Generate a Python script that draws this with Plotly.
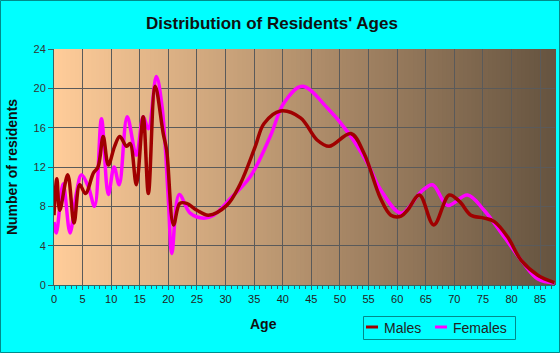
import plotly.graph_objects as go

# ---- data ----
male_age = [0.0, 0.5, 1.0, 2.4, 3.5, 4.5, 5.5, 6.9, 7.7, 8.6, 9.5, 10.6, 11.5, 12.7, 13.3,
            14.4, 15.6, 16.5, 17.7, 19.1, 19.7, 20.9, 22.0, 23.2, 25.0, 27.0, 30.2, 32.5,
            35.2, 36.7, 39.6, 43.1, 46.0, 48.1, 51.9, 54.2, 57.1, 58.9, 60.7, 61.8, 63.9,
            66.4, 69.1, 70.9, 72.9, 75.2, 77.0, 79.3, 81.7, 84.6, 87.5]
male_val = [7.1, 10.8, 7.6, 11.2, 6.3, 10.2, 9.3, 11.4, 12.0, 15.1, 12.2, 14.1, 15.1, 14.1, 14.4,
            10.2, 17.1, 9.3, 20.2, 15.4, 13.7, 6.1, 8.3, 8.3, 7.6, 7.1, 8.1, 10.2,
            14.1, 16.4, 17.7, 17.0, 14.75, 14.1, 15.4, 13.4, 8.8, 7.1, 7.0, 7.6, 9.15,
            6.1, 9.15, 8.5, 7.1, 6.8, 6.45, 4.9, 2.5, 1.0, 0.25]

female_age = [0.0, 0.4, 1.6, 2.8, 3.9, 4.8, 6.0, 7.1, 8.3, 9.5, 10.5, 11.4, 12.8, 14.4, 15.6,
              16.5, 17.9, 18.9, 20.0, 20.6, 21.9, 23.8, 26.2, 27.9, 31.0, 34.3, 37.8, 40.2,
              43.4, 47.8, 51.3, 54.8, 57.1, 60.7, 64.2, 66.2, 68.8, 72.3, 75.2, 78.7, 81.7,
              84.6, 87.5]
female_val = [6.4, 5.3, 10.3, 5.3, 9.3, 11.2, 10.0, 8.0, 16.9, 9.2, 12.0, 10.2, 17.1, 13.2, 17.1,
              15.9, 21.2, 18.1, 8.6, 3.2, 9.2, 7.3, 6.8, 7.1, 8.9, 11.0, 15.1, 18.5,
              20.2, 18.0, 15.6, 12.4, 9.7, 7.3, 9.5, 10.2, 8.1, 9.15, 7.6, 4.9, 2.5,
              0.6, 0.2]

y_ticks = [0, 4, 8, 12, 16, 20, 24]
x_ticks = list(range(0, 90, 5))

series_names = ["Males", "Females"]
series_colors = ["#a00000", "#ff00ff"]

TEAL = "#008b8b"
FONT = "Arial, Liberation Sans"
fig = go.Figure()

fig.add_trace(go.Scatter(x=female_age, y=female_val, name=series_names[1], mode="lines",
                         line=dict(color=series_colors[1], width=3.5, shape="spline", smoothing=1.0),
                         hoverinfo="skip", showlegend=False))
fig.add_trace(go.Scatter(x=male_age, y=male_val, name=series_names[0], mode="lines",
                         line=dict(color=series_colors[0], width=3.5, shape="spline", smoothing=1.0),
                         hoverinfo="skip", showlegend=False))

W, H = 560, 353
ml, mr, mt, mb = 54, 5, 49, 68
pw, ph = W - ml - mr, H - mt - mb


def px(xp):
    return (xp - ml) / pw


def py(yp):
    return (H - mb - yp) / ph


# gradient background (peach -> dark brown)
c0 = (255, 204, 153)
c1 = (102, 84, 64)
N = 120
shapes = []
for i in range(N):
    t = i / (N - 1)
    r = round(c0[0] + (c1[0] - c0[0]) * t)
    g = round(c0[1] + (c1[1] - c0[1]) * t)
    b = round(c0[2] + (c1[2] - c0[2]) * t)
    shapes.append(dict(type="rect", xref="x domain", yref="y domain",
                       x0=i / N, x1=(i + 1) / N + 0.002, y0=0, y1=1,
                       fillcolor=f"rgb({r},{g},{b})", line=dict(width=0), layer="below"))

# outer border of image
shapes.append(dict(type="rect", xref="paper", yref="paper",
                   x0=px(0.5), x1=px(W - 0.5), y0=py(H - 0.5), y1=py(0.5),
                   line=dict(color=TEAL, width=1), fillcolor="rgba(0,0,0,0)", layer="above"))

# legend box
shapes.append(dict(type="rect", xref="paper", yref="paper",
                   x0=px(363.5), x1=px(515.5), y0=py(339.5), y1=py(316.5),
                   line=dict(color=TEAL, width=1), fillcolor="rgba(0,0,0,0)", layer="above"))
annotations = []
legend_items = [(366, 382), (435, 451)]
for (lx, tx), name, col in zip(legend_items, series_names, series_colors):
    shapes.append(dict(type="line", xref="paper", yref="paper",
                       x0=px(lx), x1=px(lx + 12), y0=py(327), y1=py(327),
                       line=dict(color=col, width=3), layer="above"))
    annotations.append(dict(text=name, xref="paper", yref="paper", x=px(tx), y=py(328),
                            xanchor="left", yanchor="middle", showarrow=False,
                            font=dict(family=FONT, size=14, color="#222222")))

# x-axis title
annotations.append(dict(text="<b>Age</b>", xref="paper", yref="paper", x=px(263), y=py(324),
                        xanchor="center", yanchor="middle", showarrow=False,
                        font=dict(family=FONT, size=14, color="#111111")))

fig.update_layout(
    width=W, height=H,
    margin=dict(l=ml, r=mr, t=mt, b=mb),
    paper_bgcolor="#00ffff",
    plot_bgcolor="#ffcc99",
    shapes=shapes,
    annotations=annotations,
    showlegend=False,
    title=dict(text="<b>Distribution of Residents' Ages</b>", x=272 / W, xref="container",
               xanchor="center", y=1 - 23 / H, yanchor="middle",
               font=dict(family=FONT, size=17, color="#111111")),
    xaxis=dict(range=[0, 87.6], tickvals=x_ticks, ticktext=[str(v) for v in x_ticks],
               showgrid=True, gridcolor="#5a5a5a", gridwidth=1,
               ticks="outside", ticklen=4, tickcolor="#336666",
               minor=dict(dtick=1, ticks="outside", ticklen=3, tickcolor="#336666", showgrid=False),
               showline=True, linecolor="#336666", linewidth=1, zeroline=False,
               tickfont=dict(family=FONT, size=11, color="#222222")),
    yaxis=dict(range=[0, 24], tickvals=y_ticks, ticktext=[str(v) for v in y_ticks],
               showgrid=True, gridcolor="#5a5a5a", gridwidth=1,
               ticks="outside", ticklen=5, tickcolor="#336666",
               showline=True, linecolor="#336666", linewidth=1, zeroline=False,
               tickfont=dict(family=FONT, size=11, color="#333333"),
               title=dict(text="<b>Number of residents</b>", standoff=12,
                          font=dict(family=FONT, size=14, color="#111111"))),
)

fig.write_html("out.html")
